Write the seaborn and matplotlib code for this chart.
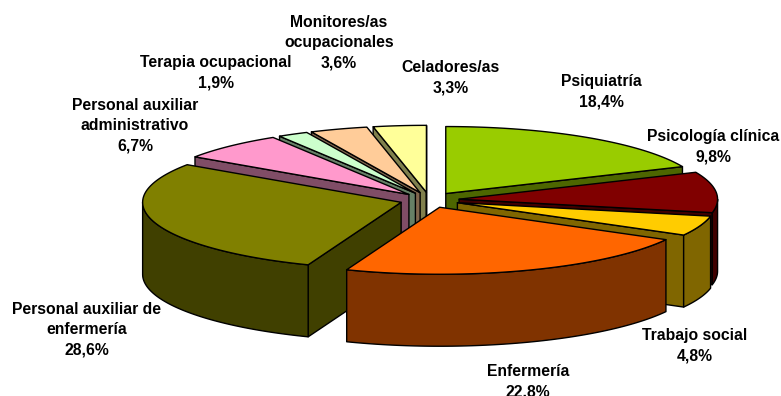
import numpy as np
import matplotlib
matplotlib.use("Agg")
import matplotlib.pyplot as plt
from matplotlib.patches import Polygon
import seaborn as sns

categories = ["Psiquiatría", "Psicología clínica", "Trabajo social", "Enfermería",
              "Personal auxiliar de\nenfermería", "Personal auxiliar\nadministrativo",
              "Terapia ocupacional", "Monitores/as\nocupacionales", "Celadores/as"]
values = [18.4, 9.8, 4.8, 22.8, 28.6, 6.7, 1.9, 3.6, 3.3]
top_colors = ["#99CC00", "#800000", "#FFCC00", "#FF6600", "#808000",
              "#FF99CC", "#CCFFCC", "#FFCC99", "#FFFF99"]
label_xy = [(601, 92), (713, 147), (695, 346), (528, 382), (87, 330),
            (135, 126), (216, 73), (339, 43), (451, 78)]
draw_order = [0, 8, 7, 6, 5, 1, 4, 2, 3]

CX, CY, RX, RY, DEPTH, EXPLODE = 429.5, 200, 258.5, 67, 72, 0.115

sns.set_theme(style="white")
plt.rcParams["font.family"] = ["Liberation Sans", "DejaVu Sans"]

fig = plt.figure(figsize=(7.81, 3.96), dpi=100)
ax = fig.add_axes([0, 0, 1, 1])
ax.set_xlim(0, 781)
ax.set_ylim(396, 0)
ax.axis("off")

vals = np.array(values)
edges = np.concatenate([[0], np.cumsum(vals)]) / vals.sum() * 2 * np.pi


def pt(theta, ox, oy, r=1.0, z=0.0):
    return (ox + RX * r * np.sin(theta), oy - RY * r * np.cos(theta) + z)


def shade(hexcol):
    r, g, b = matplotlib.colors.to_rgb(hexcol)
    return (r / 2, g / 2, b / 2)


def poly(points, color):
    ax.add_patch(Polygon(points, closed=True, facecolor=color, edgecolor="black",
                         linewidth=1.0, joinstyle="round"))


for i in draw_order:
    a, b = edges[i], edges[i + 1]
    mid = (a + b) / 2
    ox, oy = pt(mid, CX, CY, EXPLODE)
    wall = shade(top_colors[i])
    apex, apex_low = (ox, oy), (ox, oy + DEPTH)
    # radial cut faces that look towards the viewer
    if np.sin(a) < 0:
        poly([apex, pt(a, ox, oy), pt(a, ox, oy, z=DEPTH), apex_low], wall)
    if np.sin(b) > 0:
        poly([apex, pt(b, ox, oy), pt(b, ox, oy, z=DEPTH), apex_low], wall)
    # outer rim, front half only
    lo, hi = max(a, np.pi / 2), min(b, 3 * np.pi / 2)
    if hi > lo:
        t = np.linspace(lo, hi, 80)
        upper = [pt(v, ox, oy) for v in t]
        lower = [pt(v, ox, oy, z=DEPTH) for v in t[::-1]]
        poly(upper + lower, wall)
    # top face
    t = np.linspace(a, b, 120)
    poly([apex] + [pt(v, ox, oy) for v in t], top_colors[i])

for name, v, (x, y) in zip(categories, values, label_xy):
    txt = f"{name}\n{v:.1f}%".replace(".", ",")
    ax.text(x, y, txt, ha="center", va="center", fontsize=11.3, fontweight="bold",
            color="black", linespacing=1.42, clip_on=False)

sns.despine(ax=ax, left=True, bottom=True)
fig.savefig("out.png", dpi=100)
